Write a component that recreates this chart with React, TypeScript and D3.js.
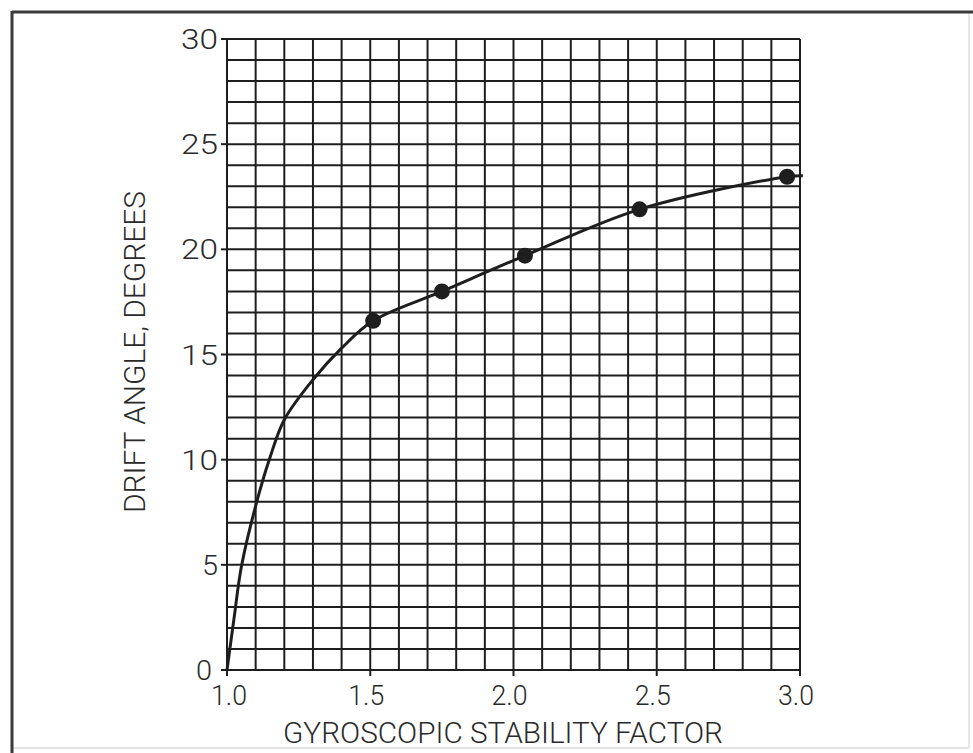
import React from "react";
import * as d3 from "d3";

const xTicks = [1.0, 1.5, 2.0, 2.5, 3.0];
const xTickLabels = ["1.0", "1.5", "2.0", "2.5", "3.0"];
const yTicks = [0, 5, 10, 15, 20, 25, 30];
const yTickLabels = ["0", "5", "10", "15", "20", "25", "30"];

const curveX = [1.0, 1.025, 1.05, 1.1, 1.15, 1.2, 1.3, 1.4, 1.51, 1.75, 2.04, 2.44, 2.955, 3.01];
const curveY = [0, 2.5, 4.9, 7.8, 10.1, 11.9, 13.8, 15.3, 16.6, 18.0, 19.7, 21.9, 23.45, 23.5];

const pointX = [1.51, 1.75, 2.04, 2.44, 2.955];
const pointY = [16.6, 18.0, 19.7, 21.9, 23.45];

const xTitle = "GYROSCOPIC STABILITY FACTOR";
const yTitle = "DRIFT ANGLE, DEGREES";

export default function App() {
  const W = 973, H = 753;
  const x = d3.scaleLinear().domain([1, 3]).range([227, 800]);
  const y = d3.scaleLinear().domain([0, 30]).range([670, 39]);
  const vGrid = d3.range(1.0, 3.0001, 0.1);
  const hGrid = d3.range(0, 30.0001, 1);
  const line = d3
    .line<number>()
    .x((_, i) => x(curveX[i]))
    .y((d) => y(d))
    .curve(d3.curveCatmullRom.alpha(0.5));
  const ink = "#1e1e1e";
  const font = "Roboto, 'DejaVu Sans', sans-serif";
  return (
    <svg
      width={W}
      height={H}
      style={{ position: "absolute", left: 0, top: 0, background: "#fff" }}
    >
      <rect x={0} y={0} width={W} height={H} fill="#fff" />
      {/* frame */}
      <line x1={12} y1={748} x2={969} y2={748} stroke="#e4e4e4" strokeWidth={2} />
      <line x1={969} y1={12} x2={969} y2={748} stroke="#e8e8e8" strokeWidth={2} />
      <line x1={12} y1={12} x2={973} y2={12} stroke="#3a3a3a" strokeWidth={3} />
      <line x1={12} y1={11} x2={12} y2={753} stroke="#3a3a3a" strokeWidth={3} />
      {/* grid */}
      <g stroke={ink} strokeWidth={2}>
        {vGrid.map((v, i) => (
          <line key={"v" + i} x1={x(v)} x2={x(v)} y1={y(30)} y2={y(0)} />
        ))}
        {hGrid.map((v, i) => (
          <line key={"h" + i} x1={x(1)} x2={x(3)} y1={y(v)} y2={y(v)} />
        ))}
        {xTicks.map((v, i) => (
          <line key={"xt" + i} x1={x(v)} x2={x(v)} y1={y(0)} y2={y(0) + 6} />
        ))}
        {yTicks.map((v, i) => (
          <line key={"yt" + i} x1={x(1) - 6} x2={x(1)} y1={y(v)} y2={y(v)} />
        ))}
      </g>
      {/* curve */}
      <path d={line(curveY) || ""} fill="none" stroke={ink} strokeWidth={3} />
      {pointX.map((v, i) => (
        <circle key={"p" + i} cx={x(v)} cy={y(pointY[i])} r={8} fill={ink} />
      ))}
      {/* tick labels */}
      <g fill="#2a2a2a" fontFamily={font} fontWeight={300} fontSize={28}>
        {yTicks.map((v, i) => (
          <text
            key={"yl" + i}
            x={v === 0 ? x(1) - 15 : x(1) - 9}
            y={y(v) + 10}
            textAnchor="end"
            textLength={yTickLabels[i].length === 2 ? 37 : 16}
            lengthAdjust="spacingAndGlyphs"
          >
            {yTickLabels[i]}
          </text>
        ))}
        {xTicks.map((v, i) => (
          <text
            key={"xl" + i}
            x={v === 1 ? x(v) + 2 : x(v) - 4}
            y={y(0) + 35}
            textAnchor="middle"
            textLength={36}
            lengthAdjust="spacingAndGlyphs"
          >
            {xTickLabels[i]}
          </text>
        ))}
      </g>
      {/* axis titles */}
      <text
        x={503}
        y={743}
        textAnchor="middle"
        fill="#2a2a2a"
        fontFamily={font}
        fontWeight={300}
        fontSize={29}
        textLength={440}
        lengthAdjust="spacingAndGlyphs"
      >
        {xTitle}
      </text>
      <text
        transform="translate(145,352) rotate(-90)"
        x={0}
        y={0}
        textAnchor="middle"
        fill="#2a2a2a"
        fontFamily={font}
        fontWeight={300}
        fontSize={29}
        textLength={322}
        lengthAdjust="spacingAndGlyphs"
      >
        {yTitle}
      </text>
    </svg>
  );
}
